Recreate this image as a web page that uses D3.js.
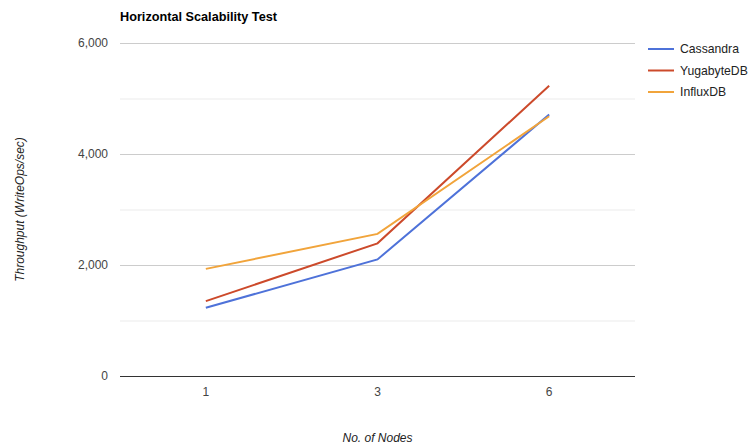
<!DOCTYPE html>
<html lang="en">
<head>
<meta charset="utf-8">
<title>Horizontal Scalability Test</title>
<script src="https://d3js.org/d3.v7.min.js"></script>
<style>
  body { margin: 0; background: #fff; }
  svg { font-family: "Liberation Sans", Arial, sans-serif; }
  .grid line { stroke: #cccccc; }
  .grid .minor { stroke: #ebebeb; }
  .tick text { fill: #444; font-size: 12px; }
  .line { fill: none; stroke-width: 2px; }
</style>
</head>
<body>
<svg width="749" height="447"></svg>
<script>
var nodes = ["1", "3", "6"];
var cassandra = [1230, 2100, 4710];
var yugabyte = [1350, 2390, 5230];
var influx = [1930, 2560, 4680];
var yTicks = [0, 2000, 4000, 6000];
var yMinor = [1000, 3000, 5000];

var series = [
  {name: "Cassandra", values: cassandra, color: "#4e72d9"},
  {name: "YugabyteDB", values: yugabyte, color: "#cc4a2b"},
  {name: "InfluxDB", values: influx, color: "#f1a43b"}
];

var svg = d3.select("svg"),
    margin = {top: 43, right: 114, bottom: 71, left: 120},
    width = 749 - margin.left - margin.right,
    height = 447 - margin.top - margin.bottom,
    g = svg.append("g").attr("transform", "translate(" + margin.left + "," + margin.top + ")");

var x = d3.scaleBand().domain(nodes).range([0, width]);
var y = d3.scaleLinear().domain([0, 6000]).range([height, 0]);

// gridlines
var grid = g.append("g").attr("class", "grid");
grid.selectAll(".minor").data(yMinor).enter().append("line")
    .attr("class", "minor")
    .attr("x1", 0).attr("x2", width)
    .attr("y1", function(d) { return y(d) + 0.5; })
    .attr("y2", function(d) { return y(d) + 0.5; });
grid.selectAll(".major").data(yTicks.slice(1)).enter().append("line")
    .attr("class", "major")
    .attr("x1", 0).attr("x2", width)
    .attr("y1", function(d) { return y(d) + 0.5; })
    .attr("y2", function(d) { return y(d) + 0.5; });

// y axis labels
var yAxis = g.append("g")
    .call(d3.axisLeft(y).tickValues(yTicks).tickSize(0).tickPadding(12).tickFormat(d3.format(",")));
yAxis.select(".domain").remove();

// x axis
var xAxis = g.append("g")
    .attr("transform", "translate(0," + height + ")")
    .call(d3.axisBottom(x).tickSize(0).tickPadding(11));
xAxis.select(".domain").remove();

g.append("line")
    .attr("x1", 0).attr("x2", width)
    .attr("y1", y(0) + 0.5).attr("y2", y(0) + 0.5)
    .attr("stroke", "#333").attr("stroke-width", 1);

var line = d3.line()
    .x(function(d, i) { return x(nodes[i]) + x.bandwidth() / 2; })
    .y(function(d) { return y(d); });

g.selectAll(".line").data(series).enter().append("path")
    .attr("class", "line")
    .attr("d", function(d) { return line(d.values); })
    .style("stroke", function(d) { return d.color; });

// title
svg.append("text")
    .attr("x", 120).attr("y", 21)
    .style("font-size", "12.7px").style("font-weight", "bold").attr("fill", "#000")
    .text("Horizontal Scalability Test");

// axis titles
svg.append("text")
    .attr("transform", "translate(24," + (margin.top + height / 2) + ") rotate(-90)")
    .attr("text-anchor", "middle")
    .style("font-size", "12px").style("font-style", "italic").attr("fill", "#222")
    .text("Throughput (WriteOps/sec)");

svg.append("text")
    .attr("x", margin.left + width / 2).attr("y", 442)
    .attr("text-anchor", "middle")
    .style("font-size", "12px").style("font-style", "italic").attr("fill", "#222")
    .text("No. of Nodes");

// legend
var legend = svg.append("g").attr("transform", "translate(648,49)");
var item = legend.selectAll("g").data(series).enter().append("g")
    .attr("transform", function(d, i) { return "translate(0," + (i * 21.5) + ")"; });
item.append("line")
    .attr("x1", 0).attr("x2", 26)
    .attr("stroke-width", 2)
    .attr("stroke", function(d) { return d.color; });
item.append("text")
    .attr("x", 32).attr("dy", "0.35em")
    .style("font-size", "12.2px").attr("fill", "#222")
    .text(function(d) { return d.name; });
</script>
</body>
</html>
